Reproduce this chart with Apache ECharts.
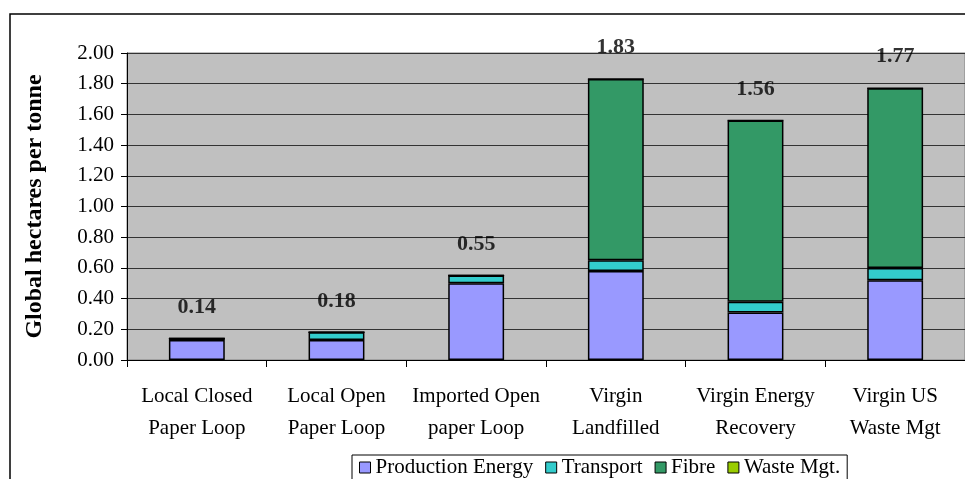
<!DOCTYPE html>
<html>
<head>
<meta charset="utf-8">
<script src="https://cdn.jsdelivr.net/npm/echarts@6/dist/echarts.min.js"></script>
<style>
  html, body { margin: 0; padding: 0; background: #fff; }
  #chart { width: 965px; height: 479px; }
</style>
</head>
<body>
<div id="chart"></div>
<script>
// Ecological footprint of paper loops, by component (global hectares per tonne)
const categories = [
  'Local Closed\nPaper Loop',
  'Local Open\nPaper Loop',
  'Imported Open\npaper Loop',
  'Virgin\nLandfilled',
  'Virgin Energy\nRecovery',
  'Virgin US\nWaste Mgt'
];
const productionEnergy = [0.13, 0.13, 0.50, 0.58, 0.31, 0.52];
const transport        = [0.01, 0.05, 0.05, 0.07, 0.07, 0.08];
const fibre            = [0.00, 0.00, 0.00, 1.18, 1.18, 1.17];
const wasteMgt         = [0.00, 0.00, 0.00, 0.00, 0.00, 0.00];
const yTicks = [0, 0.2, 0.4, 0.6, 0.8, 1.0, 1.2, 1.4, 1.6, 1.8, 2.0];

// Totals shown above each stack
const totals = categories.map((_, i) =>
  +(productionEnergy[i] + transport[i] + fibre[i] + wasteMgt[i]).toFixed(2));

const serif = '"Liberation Serif", "Times New Roman", serif';

const chart = echarts.init(document.getElementById('chart'));

function stackSeries(name, data, color) {
  return {
    name: name,
    type: 'bar',
    stack: 'total',
    data: data,
    barWidth: '40%',
    itemStyle: { color: color, borderColor: '#000', borderWidth: 1.5 }
  };
}

chart.setOption({
  animation: false,
  backgroundColor: '#fff',
  textStyle: { fontFamily: serif, color: '#000' },
  graphic: [{
    type: 'rect',
    shape: { x: 10, y: 14, width: 1000, height: 500 },
    style: { fill: 'none', stroke: '#000', lineWidth: 1.5 },
    silent: true,
    z: -1
  }],
  grid: {
    left: 127,
    top: 53,
    bottom: 119,
    right: -12,
    show: true,
    backgroundColor: '#C0C0C0',
    borderColor: '#808080',
    borderWidth: 1
  },
  legend: {
    data: ['Production Energy', 'Transport', 'Fibre', 'Waste Mgt.'],
    left: 352,
    top: 455,
    itemWidth: 11,
    itemHeight: 11,
    itemGap: 12,
    icon: 'rect',
    padding: [2, 7, 10, 7],
    borderColor: '#000',
    borderWidth: 1,
    backgroundColor: '#fff',
    textStyle: { fontFamily: serif, fontSize: 21, color: '#000' },
    itemStyle: { borderColor: '#000', borderWidth: 1 }
  },
  xAxis: {
    type: 'category',
    data: categories,
    axisLine: { lineStyle: { color: '#000', width: 1 } },
    axisTick: { show: true, alignWithLabel: false, length: 7, lineStyle: { color: '#000' } },
    axisLabel: {
      fontFamily: serif,
      fontSize: 21,
      color: '#000',
      lineHeight: 32,
      margin: 20,
      interval: 0
    }
  },
  yAxis: {
    type: 'value',
    min: 0,
    max: 2,
    interval: 0.2,
    name: 'Global hectares per tonne',
    nameLocation: 'middle',
    nameGap: 80,
    nameTextStyle: { fontFamily: serif, fontSize: 24, fontWeight: 'bold', color: '#000' },
    axisLine: { show: true, lineStyle: { color: '#000', width: 1 } },
    axisTick: { show: true, length: 6, lineStyle: { color: '#000' } },
    axisLabel: {
      fontFamily: serif,
      fontSize: 21,
      color: '#000',
      margin: 13,
      formatter: v => {
        const t = yTicks.find(k => Math.abs(k - v) < 1e-9);
        return (t !== undefined ? t : v).toFixed(2);
      }
    },
    splitLine: { show: true, lineStyle: { color: '#333', width: 1 } }
  },
  series: [
    stackSeries('Production Energy', productionEnergy, '#9999FF'),
    stackSeries('Transport', transport, '#33CCCC'),
    stackSeries('Fibre', fibre, '#339966'),
    stackSeries('Waste Mgt.', wasteMgt, '#99CC00'),
    {
      name: 'Total',
      type: 'scatter',
      data: totals,
      symbolSize: 1,
      itemStyle: { color: 'rgba(0,0,0,0)' },
      clip: false,
      z: 10,
      label: {
        show: true,
        position: 'top',
        distance: 20,
        fontFamily: serif,
        fontSize: 22,
        fontWeight: 'bold',
        color: '#000',
        formatter: p => p.value.toFixed(2)
      }
    }
  ]
});
</script>
</body>
</html>
